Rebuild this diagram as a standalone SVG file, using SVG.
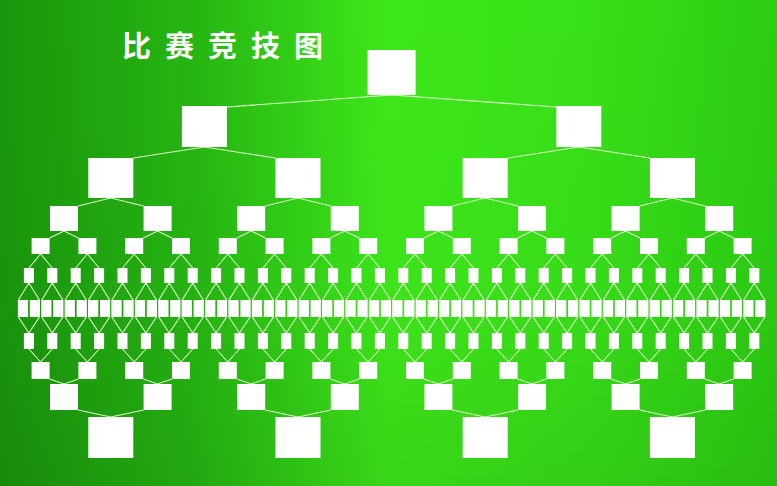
<svg xmlns="http://www.w3.org/2000/svg" xmlns:xlink="http://www.w3.org/1999/xlink" width="777" height="486" viewBox="0 0 777 486">
<defs>
<linearGradient id="bg" x1="0" y1="0" x2="1" y2="0">
<stop offset="0" stop-color="#1a960c"/>
<stop offset="0.25" stop-color="#26b612"/>
<stop offset="0.5" stop-color="#3ee81a"/>
<stop offset="0.75" stop-color="#38e018"/>
<stop offset="1" stop-color="#2ccc12"/>
</linearGradient>
<linearGradient id="vg" x1="0" y1="0" x2="0" y2="1">
<stop offset="0" stop-color="#000" stop-opacity="0"/>
<stop offset="0.6" stop-color="#000" stop-opacity="0.02"/>
<stop offset="1" stop-color="#000" stop-opacity="0.08"/>
</linearGradient>
<rect id="b1" width="48" height="45"/>
<rect id="b2" width="45" height="41"/>
<rect id="b3" width="45" height="40"/>
<rect id="b3d" width="45" height="41"/>
<rect id="b4" width="28" height="25"/>
<rect id="b4d" width="28" height="26"/>
<rect id="b5" width="18" height="16"/>
<rect id="b5d" width="18" height="17"/>
<rect id="b6" width="10" height="15"/>
<rect id="b6d" width="10" height="16"/>
<rect id="b7" width="10" height="17"/>
</defs>
<style>
.title{font-family:"Noto Sans CJK SC","Noto Sans CJK JP",sans-serif;font-size:29px;font-weight:bold;fill:#ffffff;letter-spacing:14px}
.conn{fill:none;stroke:#dcf9c8;stroke-width:1.1}
.node use{fill:#ffffff}
</style>
<rect width="777" height="486" fill="url(#bg)"/>
<rect width="777" height="486" fill="url(#vg)"/>
<text class="title" x="122" y="57">比赛竞技图</text>
<g id="connectors" class="conn">
<path d="M226.9,107 L391.6,95 L556.3,107"/>
<path d="M133.3,158 L204.4,147 L275.5,158 M507.7,158 L578.8,147 L649.9,158"/>
<path d="M78,206 L110.8,198 L143.6,206 M265.2,206 L298,198 L330.8,206 M452.4,206 L485.2,198 L518,206 M639.6,206 L672.4,198 L705.2,206"/>
<path d="M49.6,238 L64,231 L78.4,238 M143.2,238 L157.6,231 L172,238 M236.8,238 L251.2,231 L265.6,238 M330.4,238 L344.8,231 L359.2,238 M424,238 L438.4,231 L452.8,238 M517.6,238 L532,231 L546.4,238 M611.2,238 L625.6,231 L640,238 M704.8,238 L719.2,231 L733.6,238"/>
<path d="M28.9,268 L40.6,254 L52.3,268 M75.7,268 L87.4,254 L99.1,268 M122.5,268 L134.2,254 L145.9,268 M169.3,268 L181,254 L192.7,268 M216.1,268 L227.8,254 L239.5,268 M262.9,268 L274.6,254 L286.3,268 M309.7,268 L321.4,254 L333.1,268 M356.5,268 L368.2,254 L379.9,268 M403.3,268 L415,254 L426.7,268 M450.1,268 L461.8,254 L473.5,268 M496.9,268 L508.6,254 L520.3,268 M543.7,268 L555.4,254 L567.1,268 M590.5,268 L602.2,254 L613.9,268 M637.3,268 L649,254 L660.7,268 M684.1,268 L695.8,254 L707.5,268 M730.9,268 L742.6,254 L754.3,268"/>
<path d="M28.9,349 L40.6,362 L52.3,349 M75.7,349 L87.4,362 L99.1,349 M122.5,349 L134.2,362 L145.9,349 M169.3,349 L181,362 L192.7,349 M216.1,349 L227.8,362 L239.5,349 M262.9,349 L274.6,362 L286.3,349 M309.7,349 L321.4,362 L333.1,349 M356.5,349 L368.2,362 L379.9,349 M403.3,349 L415,362 L426.7,349 M450.1,349 L461.8,362 L473.5,349 M496.9,349 L508.6,362 L520.3,349 M543.7,349 L555.4,362 L567.1,349 M590.5,349 L602.2,362 L613.9,349 M637.3,349 L649,362 L660.7,349 M684.1,349 L695.8,362 L707.5,349 M730.9,349 L742.6,362 L754.3,349"/>
<path d="M49.6,379 L64,384 L78.4,379 M143.2,379 L157.6,384 L172,379 M236.8,379 L251.2,384 L265.6,379 M330.4,379 L344.8,384 L359.2,379 M424,379 L438.4,384 L452.8,379 M517.6,379 L532,384 L546.4,379 M611.2,379 L625.6,384 L640,379 M704.8,379 L719.2,384 L733.6,379"/>
<path d="M78,410 L110.8,417 L143.6,410 M265.2,410 L298,417 L330.8,410 M452.4,410 L485.2,417 L518,410 M639.6,410 L672.4,417 L705.2,410"/>
<path d="M28.9,283 l-10.5,17 v17 l10.5,16 l10.5,-16 v-17 z M52.3,283 l-10.5,17 v17 l10.5,16 l10.5,-16 v-17 z M75.7,283 l-10.5,17 v17 l10.5,16 l10.5,-16 v-17 z M99.1,283 l-10.5,17 v17 l10.5,16 l10.5,-16 v-17 z M122.5,283 l-10.5,17 v17 l10.5,16 l10.5,-16 v-17 z M145.9,283 l-10.5,17 v17 l10.5,16 l10.5,-16 v-17 z M169.3,283 l-10.5,17 v17 l10.5,16 l10.5,-16 v-17 z M192.7,283 l-10.5,17 v17 l10.5,16 l10.5,-16 v-17 z M216.1,283 l-10.5,17 v17 l10.5,16 l10.5,-16 v-17 z M239.5,283 l-10.5,17 v17 l10.5,16 l10.5,-16 v-17 z M262.9,283 l-10.5,17 v17 l10.5,16 l10.5,-16 v-17 z M286.3,283 l-10.5,17 v17 l10.5,16 l10.5,-16 v-17 z M309.7,283 l-10.5,17 v17 l10.5,16 l10.5,-16 v-17 z M333.1,283 l-10.5,17 v17 l10.5,16 l10.5,-16 v-17 z M356.5,283 l-10.5,17 v17 l10.5,16 l10.5,-16 v-17 z M379.9,283 l-10.5,17 v17 l10.5,16 l10.5,-16 v-17 z M403.3,283 l-10.5,17 v17 l10.5,16 l10.5,-16 v-17 z M426.7,283 l-10.5,17 v17 l10.5,16 l10.5,-16 v-17 z M450.1,283 l-10.5,17 v17 l10.5,16 l10.5,-16 v-17 z M473.5,283 l-10.5,17 v17 l10.5,16 l10.5,-16 v-17 z M496.9,283 l-10.5,17 v17 l10.5,16 l10.5,-16 v-17 z M520.3,283 l-10.5,17 v17 l10.5,16 l10.5,-16 v-17 z M543.7,283 l-10.5,17 v17 l10.5,16 l10.5,-16 v-17 z M567.1,283 l-10.5,17 v17 l10.5,16 l10.5,-16 v-17 z M590.5,283 l-10.5,17 v17 l10.5,16 l10.5,-16 v-17 z M613.9,283 l-10.5,17 v17 l10.5,16 l10.5,-16 v-17 z M637.3,283 l-10.5,17 v17 l10.5,16 l10.5,-16 v-17 z M660.7,283 l-10.5,17 v17 l10.5,16 l10.5,-16 v-17 z M684.1,283 l-10.5,17 v17 l10.5,16 l10.5,-16 v-17 z M707.5,283 l-10.5,17 v17 l10.5,16 l10.5,-16 v-17 z M730.9,283 l-10.5,17 v17 l10.5,16 l10.5,-16 v-17 z M754.3,283 l-10.5,17 v17 l10.5,16 l10.5,-16 v-17 z"/>
</g>
<g id="final" class="node"><use href="#b1" x="367.6" y="50"/></g>
<g id="semi" class="node">
<g id="s2-0"><use href="#b2" x="181.9" y="106"/></g>
<g id="s2-1"><use href="#b2" x="556.3" y="106"/></g>
</g>
<g id="quarter-top" class="node">
<g id="u3-0"><use href="#b3" x="88.3" y="158"/></g>
<g id="u3-1"><use href="#b3" x="275.5" y="158"/></g>
<g id="u3-2"><use href="#b3" x="462.7" y="158"/></g>
<g id="u3-3"><use href="#b3" x="649.9" y="158"/></g>
</g>
<g id="r8-top" class="node">
<g id="u4-0"><use href="#b4" x="50" y="206"/></g>
<g id="u4-1"><use href="#b4" x="143.6" y="206"/></g>
<g id="u4-2"><use href="#b4" x="237.2" y="206"/></g>
<g id="u4-3"><use href="#b4" x="330.8" y="206"/></g>
<g id="u4-4"><use href="#b4" x="424.4" y="206"/></g>
<g id="u4-5"><use href="#b4" x="518" y="206"/></g>
<g id="u4-6"><use href="#b4" x="611.6" y="206"/></g>
<g id="u4-7"><use href="#b4" x="705.2" y="206"/></g>
</g>
<g id="r16-top" class="node">
<g id="u5-0"><use href="#b5" x="31.6" y="238"/></g>
<g id="u5-1"><use href="#b5" x="78.4" y="238"/></g>
<g id="u5-2"><use href="#b5" x="125.2" y="238"/></g>
<g id="u5-3"><use href="#b5" x="172" y="238"/></g>
<g id="u5-4"><use href="#b5" x="218.8" y="238"/></g>
<g id="u5-5"><use href="#b5" x="265.6" y="238"/></g>
<g id="u5-6"><use href="#b5" x="312.4" y="238"/></g>
<g id="u5-7"><use href="#b5" x="359.2" y="238"/></g>
<g id="u5-8"><use href="#b5" x="406" y="238"/></g>
<g id="u5-9"><use href="#b5" x="452.8" y="238"/></g>
<g id="u5-10"><use href="#b5" x="499.6" y="238"/></g>
<g id="u5-11"><use href="#b5" x="546.4" y="238"/></g>
<g id="u5-12"><use href="#b5" x="593.2" y="238"/></g>
<g id="u5-13"><use href="#b5" x="640" y="238"/></g>
<g id="u5-14"><use href="#b5" x="686.8" y="238"/></g>
<g id="u5-15"><use href="#b5" x="733.6" y="238"/></g>
</g>
<g id="r32-top" class="node">
<g id="u6-0"><use href="#b6" x="23.9" y="268"/></g>
<g id="u6-1"><use href="#b6" x="47.3" y="268"/></g>
<g id="u6-2"><use href="#b6" x="70.7" y="268"/></g>
<g id="u6-3"><use href="#b6" x="94.1" y="268"/></g>
<g id="u6-4"><use href="#b6" x="117.5" y="268"/></g>
<g id="u6-5"><use href="#b6" x="140.9" y="268"/></g>
<g id="u6-6"><use href="#b6" x="164.3" y="268"/></g>
<g id="u6-7"><use href="#b6" x="187.7" y="268"/></g>
<g id="u6-8"><use href="#b6" x="211.1" y="268"/></g>
<g id="u6-9"><use href="#b6" x="234.5" y="268"/></g>
<g id="u6-10"><use href="#b6" x="257.9" y="268"/></g>
<g id="u6-11"><use href="#b6" x="281.3" y="268"/></g>
<g id="u6-12"><use href="#b6" x="304.7" y="268"/></g>
<g id="u6-13"><use href="#b6" x="328.1" y="268"/></g>
<g id="u6-14"><use href="#b6" x="351.5" y="268"/></g>
<g id="u6-15"><use href="#b6" x="374.9" y="268"/></g>
<g id="u6-16"><use href="#b6" x="398.3" y="268"/></g>
<g id="u6-17"><use href="#b6" x="421.7" y="268"/></g>
<g id="u6-18"><use href="#b6" x="445.1" y="268"/></g>
<g id="u6-19"><use href="#b6" x="468.5" y="268"/></g>
<g id="u6-20"><use href="#b6" x="491.9" y="268"/></g>
<g id="u6-21"><use href="#b6" x="515.3" y="268"/></g>
<g id="u6-22"><use href="#b6" x="538.7" y="268"/></g>
<g id="u6-23"><use href="#b6" x="562.1" y="268"/></g>
<g id="u6-24"><use href="#b6" x="585.5" y="268"/></g>
<g id="u6-25"><use href="#b6" x="608.9" y="268"/></g>
<g id="u6-26"><use href="#b6" x="632.3" y="268"/></g>
<g id="u6-27"><use href="#b6" x="655.7" y="268"/></g>
<g id="u6-28"><use href="#b6" x="679.1" y="268"/></g>
<g id="u6-29"><use href="#b6" x="702.5" y="268"/></g>
<g id="u6-30"><use href="#b6" x="725.9" y="268"/></g>
<g id="u6-31"><use href="#b6" x="749.3" y="268"/></g>
</g>
<g id="r64" class="node">
<g id="m-0"><use href="#b7" x="18.1" y="300"/></g>
<g id="m-1"><use href="#b7" x="29.8" y="300"/></g>
<g id="m-2"><use href="#b7" x="41.5" y="300"/></g>
<g id="m-3"><use href="#b7" x="53.2" y="300"/></g>
<g id="m-4"><use href="#b7" x="64.9" y="300"/></g>
<g id="m-5"><use href="#b7" x="76.6" y="300"/></g>
<g id="m-6"><use href="#b7" x="88.3" y="300"/></g>
<g id="m-7"><use href="#b7" x="100" y="300"/></g>
<g id="m-8"><use href="#b7" x="111.7" y="300"/></g>
<g id="m-9"><use href="#b7" x="123.4" y="300"/></g>
<g id="m-10"><use href="#b7" x="135.1" y="300"/></g>
<g id="m-11"><use href="#b7" x="146.8" y="300"/></g>
<g id="m-12"><use href="#b7" x="158.5" y="300"/></g>
<g id="m-13"><use href="#b7" x="170.2" y="300"/></g>
<g id="m-14"><use href="#b7" x="181.9" y="300"/></g>
<g id="m-15"><use href="#b7" x="193.6" y="300"/></g>
<g id="m-16"><use href="#b7" x="205.3" y="300"/></g>
<g id="m-17"><use href="#b7" x="217" y="300"/></g>
<g id="m-18"><use href="#b7" x="228.7" y="300"/></g>
<g id="m-19"><use href="#b7" x="240.4" y="300"/></g>
<g id="m-20"><use href="#b7" x="252.1" y="300"/></g>
<g id="m-21"><use href="#b7" x="263.8" y="300"/></g>
<g id="m-22"><use href="#b7" x="275.5" y="300"/></g>
<g id="m-23"><use href="#b7" x="287.2" y="300"/></g>
<g id="m-24"><use href="#b7" x="298.9" y="300"/></g>
<g id="m-25"><use href="#b7" x="310.6" y="300"/></g>
<g id="m-26"><use href="#b7" x="322.3" y="300"/></g>
<g id="m-27"><use href="#b7" x="334" y="300"/></g>
<g id="m-28"><use href="#b7" x="345.7" y="300"/></g>
<g id="m-29"><use href="#b7" x="357.4" y="300"/></g>
<g id="m-30"><use href="#b7" x="369.1" y="300"/></g>
<g id="m-31"><use href="#b7" x="380.8" y="300"/></g>
<g id="m-32"><use href="#b7" x="392.5" y="300"/></g>
<g id="m-33"><use href="#b7" x="404.2" y="300"/></g>
<g id="m-34"><use href="#b7" x="415.9" y="300"/></g>
<g id="m-35"><use href="#b7" x="427.6" y="300"/></g>
<g id="m-36"><use href="#b7" x="439.3" y="300"/></g>
<g id="m-37"><use href="#b7" x="451" y="300"/></g>
<g id="m-38"><use href="#b7" x="462.7" y="300"/></g>
<g id="m-39"><use href="#b7" x="474.4" y="300"/></g>
<g id="m-40"><use href="#b7" x="486.1" y="300"/></g>
<g id="m-41"><use href="#b7" x="497.8" y="300"/></g>
<g id="m-42"><use href="#b7" x="509.5" y="300"/></g>
<g id="m-43"><use href="#b7" x="521.2" y="300"/></g>
<g id="m-44"><use href="#b7" x="532.9" y="300"/></g>
<g id="m-45"><use href="#b7" x="544.6" y="300"/></g>
<g id="m-46"><use href="#b7" x="556.3" y="300"/></g>
<g id="m-47"><use href="#b7" x="568" y="300"/></g>
<g id="m-48"><use href="#b7" x="579.7" y="300"/></g>
<g id="m-49"><use href="#b7" x="591.4" y="300"/></g>
<g id="m-50"><use href="#b7" x="603.1" y="300"/></g>
<g id="m-51"><use href="#b7" x="614.8" y="300"/></g>
<g id="m-52"><use href="#b7" x="626.5" y="300"/></g>
<g id="m-53"><use href="#b7" x="638.2" y="300"/></g>
<g id="m-54"><use href="#b7" x="649.9" y="300"/></g>
<g id="m-55"><use href="#b7" x="661.6" y="300"/></g>
<g id="m-56"><use href="#b7" x="673.3" y="300"/></g>
<g id="m-57"><use href="#b7" x="685" y="300"/></g>
<g id="m-58"><use href="#b7" x="696.7" y="300"/></g>
<g id="m-59"><use href="#b7" x="708.4" y="300"/></g>
<g id="m-60"><use href="#b7" x="720.1" y="300"/></g>
<g id="m-61"><use href="#b7" x="731.8" y="300"/></g>
<g id="m-62"><use href="#b7" x="743.5" y="300"/></g>
<g id="m-63"><use href="#b7" x="755.2" y="300"/></g>
</g>
<g id="r32-bottom" class="node">
<g id="d6-0"><use href="#b6d" x="23.9" y="333"/></g>
<g id="d6-1"><use href="#b6d" x="47.3" y="333"/></g>
<g id="d6-2"><use href="#b6d" x="70.7" y="333"/></g>
<g id="d6-3"><use href="#b6d" x="94.1" y="333"/></g>
<g id="d6-4"><use href="#b6d" x="117.5" y="333"/></g>
<g id="d6-5"><use href="#b6d" x="140.9" y="333"/></g>
<g id="d6-6"><use href="#b6d" x="164.3" y="333"/></g>
<g id="d6-7"><use href="#b6d" x="187.7" y="333"/></g>
<g id="d6-8"><use href="#b6d" x="211.1" y="333"/></g>
<g id="d6-9"><use href="#b6d" x="234.5" y="333"/></g>
<g id="d6-10"><use href="#b6d" x="257.9" y="333"/></g>
<g id="d6-11"><use href="#b6d" x="281.3" y="333"/></g>
<g id="d6-12"><use href="#b6d" x="304.7" y="333"/></g>
<g id="d6-13"><use href="#b6d" x="328.1" y="333"/></g>
<g id="d6-14"><use href="#b6d" x="351.5" y="333"/></g>
<g id="d6-15"><use href="#b6d" x="374.9" y="333"/></g>
<g id="d6-16"><use href="#b6d" x="398.3" y="333"/></g>
<g id="d6-17"><use href="#b6d" x="421.7" y="333"/></g>
<g id="d6-18"><use href="#b6d" x="445.1" y="333"/></g>
<g id="d6-19"><use href="#b6d" x="468.5" y="333"/></g>
<g id="d6-20"><use href="#b6d" x="491.9" y="333"/></g>
<g id="d6-21"><use href="#b6d" x="515.3" y="333"/></g>
<g id="d6-22"><use href="#b6d" x="538.7" y="333"/></g>
<g id="d6-23"><use href="#b6d" x="562.1" y="333"/></g>
<g id="d6-24"><use href="#b6d" x="585.5" y="333"/></g>
<g id="d6-25"><use href="#b6d" x="608.9" y="333"/></g>
<g id="d6-26"><use href="#b6d" x="632.3" y="333"/></g>
<g id="d6-27"><use href="#b6d" x="655.7" y="333"/></g>
<g id="d6-28"><use href="#b6d" x="679.1" y="333"/></g>
<g id="d6-29"><use href="#b6d" x="702.5" y="333"/></g>
<g id="d6-30"><use href="#b6d" x="725.9" y="333"/></g>
<g id="d6-31"><use href="#b6d" x="749.3" y="333"/></g>
</g>
<g id="r16-bottom" class="node">
<g id="d5-0"><use href="#b5d" x="31.6" y="362"/></g>
<g id="d5-1"><use href="#b5d" x="78.4" y="362"/></g>
<g id="d5-2"><use href="#b5d" x="125.2" y="362"/></g>
<g id="d5-3"><use href="#b5d" x="172" y="362"/></g>
<g id="d5-4"><use href="#b5d" x="218.8" y="362"/></g>
<g id="d5-5"><use href="#b5d" x="265.6" y="362"/></g>
<g id="d5-6"><use href="#b5d" x="312.4" y="362"/></g>
<g id="d5-7"><use href="#b5d" x="359.2" y="362"/></g>
<g id="d5-8"><use href="#b5d" x="406" y="362"/></g>
<g id="d5-9"><use href="#b5d" x="452.8" y="362"/></g>
<g id="d5-10"><use href="#b5d" x="499.6" y="362"/></g>
<g id="d5-11"><use href="#b5d" x="546.4" y="362"/></g>
<g id="d5-12"><use href="#b5d" x="593.2" y="362"/></g>
<g id="d5-13"><use href="#b5d" x="640" y="362"/></g>
<g id="d5-14"><use href="#b5d" x="686.8" y="362"/></g>
<g id="d5-15"><use href="#b5d" x="733.6" y="362"/></g>
</g>
<g id="r8-bottom" class="node">
<g id="d4-0"><use href="#b4d" x="50" y="384"/></g>
<g id="d4-1"><use href="#b4d" x="143.6" y="384"/></g>
<g id="d4-2"><use href="#b4d" x="237.2" y="384"/></g>
<g id="d4-3"><use href="#b4d" x="330.8" y="384"/></g>
<g id="d4-4"><use href="#b4d" x="424.4" y="384"/></g>
<g id="d4-5"><use href="#b4d" x="518" y="384"/></g>
<g id="d4-6"><use href="#b4d" x="611.6" y="384"/></g>
<g id="d4-7"><use href="#b4d" x="705.2" y="384"/></g>
</g>
<g id="quarter-bottom" class="node">
<g id="d3-0"><use href="#b3d" x="88.3" y="417"/></g>
<g id="d3-1"><use href="#b3d" x="275.5" y="417"/></g>
<g id="d3-2"><use href="#b3d" x="462.7" y="417"/></g>
<g id="d3-3"><use href="#b3d" x="649.9" y="417"/></g>
</g>
</svg>
